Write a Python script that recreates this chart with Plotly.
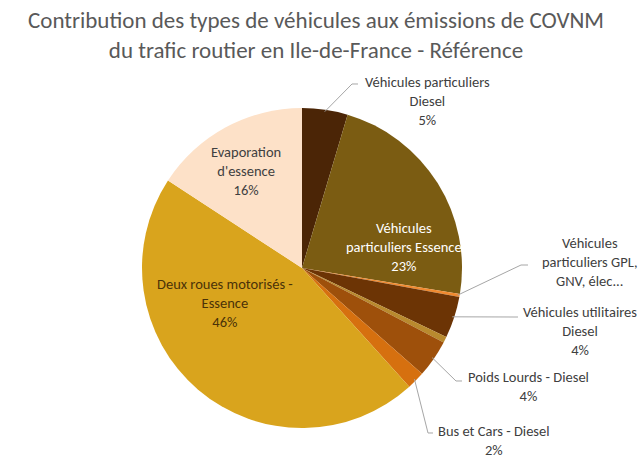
import math
import plotly.graph_objects as go

# Contributions (%) of each vehicle type, clockwise from 12 o'clock
categories = [
    "Véhicules particuliers Diesel",
    "Véhicules particuliers Essence",
    "Véhicules particuliers GPL, GNV, élec...",
    "Véhicules utilitaires Diesel",
    "Véhicules utilitaires Essence",
    "Poids Lourds - Diesel",
    "Bus et Cars - Diesel",
    "Deux roues motorisés - Essence",
    "Evaporation d'essence",
]
values = [4.6, 23.0, 0.3, 4.2, 0.6, 3.8, 1.8, 45.9, 15.8]
colors = ["#4b2506", "#7b5c12", "#f08a30", "#6c3405", "#b98a2e",
          "#9e500b", "#d6700f", "#d9a41d", "#fde1c8"]

# Label text for each slice (None = unlabeled), with/without percentage
label_lines = [
    ["Véhicules particuliers", "Diesel"],
    ["Véhicules", "particuliers Essence"],
    ["Véhicules", "particuliers GPL,", "GNV, élec..."],
    ["Véhicules utilitaires", "Diesel"],
    None,
    ["Poids Lourds - Diesel"],
    ["Bus et Cars - Diesel"],
    ["Deux roues motorisés -", "Essence"],
    ["Evaporation", "d'essence"],
]
show_pct = [True, True, False, True, False, True, True, True, True]

W, H = 642, 461
CX, CY, R = 302, 268, 160  # pie centre and radius in pixels

def px(x, y):
    return x / W, 1 - y / H

fig = go.Figure(go.Pie(
    labels=categories,
    values=values,
    sort=False,
    direction="clockwise",
    rotation=0,
    marker=dict(colors=colors, line=dict(width=0)),
    textinfo="none",
    hoverinfo="label+percent",
    domain=dict(x=[(CX - R) / W, (CX + R) / W],
                y=[1 - (CY + R) / H, 1 - (CY - R) / H]),
))

total = sum(values)
cum = 0.0
mid_angles = []
for v in values:
    mid_angles.append((cum + v / 2) / total * 2 * math.pi)
    cum += v

def edge_point(i, rr=R):
    a = mid_angles[i]
    return CX + rr * math.sin(a), CY - rr * math.cos(a)

# label placement: (text centre x, text centre y, font colour, leader elbow, leader end)
placement = {
    0: (427, 101, "#404040", (352, 84), (358, 84)),
    1: (404, 247, "#ffffff", None, None),
    2: (590, 262, "#404040", (521, 265), (528, 265)),
    3: (580, 331, "#404040", (513, 317), (518, 317)),
    5: (528, 386, "#404040", (456, 381), (462, 381)),
    6: (494, 440, "#404040", (428, 433), (433, 433)),
    7: (225, 303, "#4a3208", None, None),
    8: (246, 171, "#404040", None, None),
}

annotations = []
shapes = []
for i, (tx, ty, col, elbow, end) in placement.items():
    lines = list(label_lines[i])
    if show_pct[i]:
        lines.append(f"{round(values[i] / total * 100)}%")
    x, y = px(tx, ty)
    annotations.append(dict(
        x=x, y=y, xref="paper", yref="paper", showarrow=False,
        text="<br>".join(lines), align="center",
        xanchor="center", yanchor="middle",
        font=dict(family="Carlito, Lato, sans-serif", size=14.5, color=col),
    ))
    if elbow is not None:
        sx, sy = edge_point(i, R - 2)
        pts = [px(sx, sy), px(*elbow), px(*end)]
        path = "M " + " L ".join(f"{a:.5f},{b:.5f}" for a, b in pts)
        shapes.append(dict(type="path", xref="paper", yref="paper", path=path,
                           line=dict(color="#a6a6a6", width=1)))

tx, ty = px(316, 35)
annotations.append(dict(
    x=tx, y=ty, xref="paper", yref="paper", showarrow=False,
    text="Contribution des types de véhicules aux émissions de COVNM<br>"
         "du trafic routier en Ile-de-France - Référence",
    align="center", xanchor="center", yanchor="middle",
    font=dict(family="Carlito, Lato, sans-serif", size=23, color="#595959"),
))

fig.update_layout(
    width=W, height=H,
    margin=dict(l=0, r=0, t=0, b=0),
    paper_bgcolor="white", plot_bgcolor="white",
    showlegend=False,
    annotations=annotations,
    shapes=shapes,
)

fig.write_html("out.html")
